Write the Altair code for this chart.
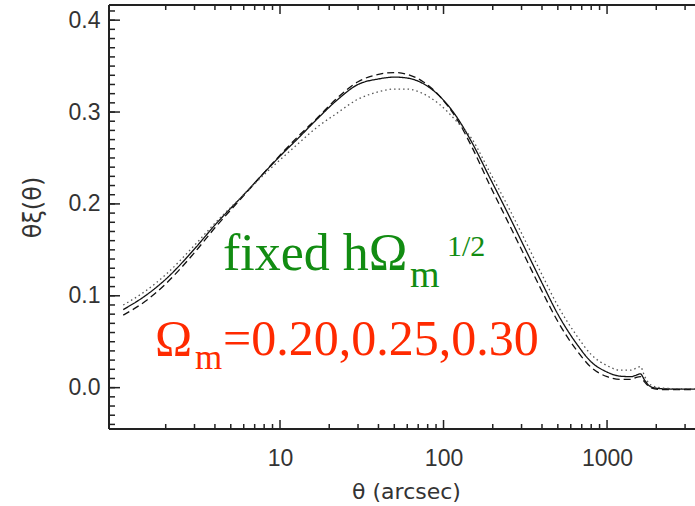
import altair as alt
import pandas as pd

# ---- data ----
theta = [1.1, 1.5, 2, 3, 4, 6, 8, 10, 13, 17, 22, 30, 40, 50, 60, 75, 95,
         120, 150, 190, 250, 320, 400, 500, 650, 800,
         1000, 1200, 1400, 1500, 1600, 1700, 1850, 2100, 2500, 3000, 3450]
solid = [0.085, 0.100, 0.118, 0.151, 0.177, 0.210, 0.234, 0.252,
         0.272, 0.293, 0.312, 0.330, 0.336, 0.338, 0.337, 0.331, 0.317,
         0.295, 0.266, 0.230, 0.188, 0.149, 0.114, 0.080, 0.048, 0.028,
         0.017, 0.0125, 0.012, 0.0135, 0.015, 0.008, 0.001, -0.001, -0.0015, -0.0015, -0.0015]
dashed = [0.079, 0.094, 0.113, 0.147, 0.174, 0.209, 0.234, 0.253,
          0.274, 0.294, 0.314, 0.333, 0.341, 0.343, 0.341, 0.333, 0.317,
          0.293, 0.261, 0.222, 0.179, 0.140, 0.105, 0.072, 0.041, 0.022,
          0.012, 0.009, 0.009, 0.011, 0.012, 0.006, 0.000, -0.002, -0.002, -0.002, -0.002]
dotted = [0.090, 0.105, 0.123, 0.155, 0.179, 0.210, 0.232, 0.248,
          0.266, 0.284, 0.298, 0.314, 0.322, 0.325, 0.325, 0.320, 0.308,
          0.290, 0.270, 0.236, 0.196, 0.158, 0.123, 0.089, 0.057, 0.036,
          0.024, 0.019, 0.019, 0.021, 0.023, 0.012, 0.003, 0.000, -0.001, -0.001, -0.001]

series_names = ["solid", "dashed", "dotted"]
x_major = [10, 100, 1000]
x_minor = [2, 3, 4, 5, 6, 7, 8, 9, 20, 30, 40, 50, 60, 70, 80, 90,
           200, 300, 400, 500, 600, 700, 800, 900, 2000, 3000]
y_major = [0.0, 0.1, 0.2, 0.3, 0.4]
y_minor = [round(-0.04 + 0.01 * i, 2) for i in range(46)]

x_title = "θ (arcsec)"
y_title = "θξ(θ)"
green_main, green_sub, green_sup = "fixed hΩ", "m", "1/2"
red_main, red_sub, red_rest = "Ω", "m", "=0.20,0.25,0.30"

rows = []
for name, vals in zip(series_names, [solid, dashed, dotted]):
    for t, v in zip(theta, vals):
        rows.append({"theta": t, "value": v, "model": name})
df = pd.DataFrame(rows)

# ---- layout ----
LEFT, TOP = 109, 5
W, H = 586, 424

xs = alt.Scale(type="log", domain=[0.9, 3450], nice=False)
ys = alt.Scale(domain=[-0.045, 0.4165], nice=False, zero=False)

INK = "#222222"
LAB = "#333333"
SANS = "DejaVu Sans"
LSANS = "Liberation Sans"
SERIF = "Liberation Serif"

lines = alt.Chart(df).mark_line(strokeWidth=1.3, interpolate="monotone").encode(
    x=alt.X("theta:Q", scale=xs, axis=alt.Axis(
        orient="bottom", values=x_major, format="d", ticks=False, tickSize=0,
        domain=False, grid=False,
        labelFont=LSANS, labelFontSize=23, labelColor=LAB, labelPadding=18,
        labelFlush=False, labelOverlap=False,
        title=x_title, titleFont=SANS, titleFontSize=22, titleFontWeight="normal",
        titleColor=LAB, titleX=297, titleY=69, titleBaseline="alphabetic",
        titleAlign="center")),
    y=alt.Y("value:Q", scale=ys, axis=alt.Axis(
        orient="left", values=y_major, format=".1f", ticks=False, tickSize=0,
        domain=False, grid=False,
        labelFont=LSANS, labelFontSize=23, labelColor=LAB, labelPadding=9,
        labelFlush=False, labelOverlap=False,
        title=y_title, titleFont=SANS, titleFontSize=24, titleFontWeight="normal",
        titleColor=LAB, titleX=-76, titleY=202, titleAngle=270,
        titleBaseline="middle", titleAlign="center")),
    strokeDash=alt.StrokeDash("model:N", scale=alt.Scale(
        domain=series_names, range=[[1, 0], [7, 4], [1.5, 3]]), legend=None),
    color=alt.Color("model:N", scale=alt.Scale(
        domain=series_names, range=["#111111", "#111111", "#555555"]), legend=None),
)


def xticks(vals, y0, y1):
    return alt.Chart(pd.DataFrame({"tick": vals})).mark_rule(
        color=INK, strokeWidth=1.5
    ).encode(x=alt.X("tick:Q", scale=xs, axis=None), y=alt.value(y0), y2=alt.value(y1))


def yticks(vals, length):
    return alt.Chart(pd.DataFrame({"tick": vals})).mark_rule(
        color=INK, strokeWidth=1.5
    ).encode(y=alt.Y("tick:Q", scale=ys, axis=None), x=alt.value(0), x2=alt.value(length))


ticks = [
    xticks(x_major, H, H - 9), xticks(x_minor, H, H - 5),
    xticks(x_major, 0, 9), xticks(x_minor, 0, 5),
    yticks(y_major, 11), yticks(y_minor, 6),
]

# frame lines (left, top, bottom); the right side is cut off in the reference
frame_data = pd.DataFrame({"side": ["left", "top", "bottom"]})
frame_left = alt.Chart(frame_data).transform_filter("datum.side == 'left'").mark_rule(
    color=INK, strokeWidth=2).encode(x=alt.value(0), y=alt.value(0), y2=alt.value(H))
frame_top = alt.Chart(frame_data).transform_filter("datum.side == 'top'").mark_rule(
    color=INK, strokeWidth=2).encode(x=alt.value(0), x2=alt.value(W), y=alt.value(0))
frame_bottom = alt.Chart(frame_data).transform_filter("datum.side == 'bottom'").mark_rule(
    color=INK, strokeWidth=2).encode(x=alt.value(0), x2=alt.value(W), y=alt.value(H))


def label(txt, px, py, size, color):
    return alt.Chart(pd.DataFrame({"txt": [txt]})).mark_text(
        align="left", baseline="alphabetic", font=SERIF, fontSize=size, color=color
    ).encode(text="txt:N", x=alt.value(px - LEFT), y=alt.value(py - TOP))


GREEN = "#128c12"
RED = "#ff2a00"
texts = [
    label(green_main, 223, 270, 52, GREEN),
    label(green_sub, 410, 287, 38, GREEN),
    label(green_sup, 447, 256, 30, GREEN),
    label(red_main, 155, 355, 50, RED),
    label(red_sub, 195, 369, 35, RED),
    label(red_rest, 223, 355, 50, RED),
]

chart = alt.layer(
    lines, *ticks, frame_left, frame_top, frame_bottom, *texts
).resolve_axis(x="independent", y="independent").properties(
    width=W, height=H,
    padding={"left": LEFT, "top": TOP, "right": 0, "bottom": 506 - TOP - H},
    autosize=alt.AutoSizeParams(type="none"),
    background="white",
).configure_view(strokeWidth=0)

chart.save("out.html", embed_options={"renderer": "svg", "actions": False})
